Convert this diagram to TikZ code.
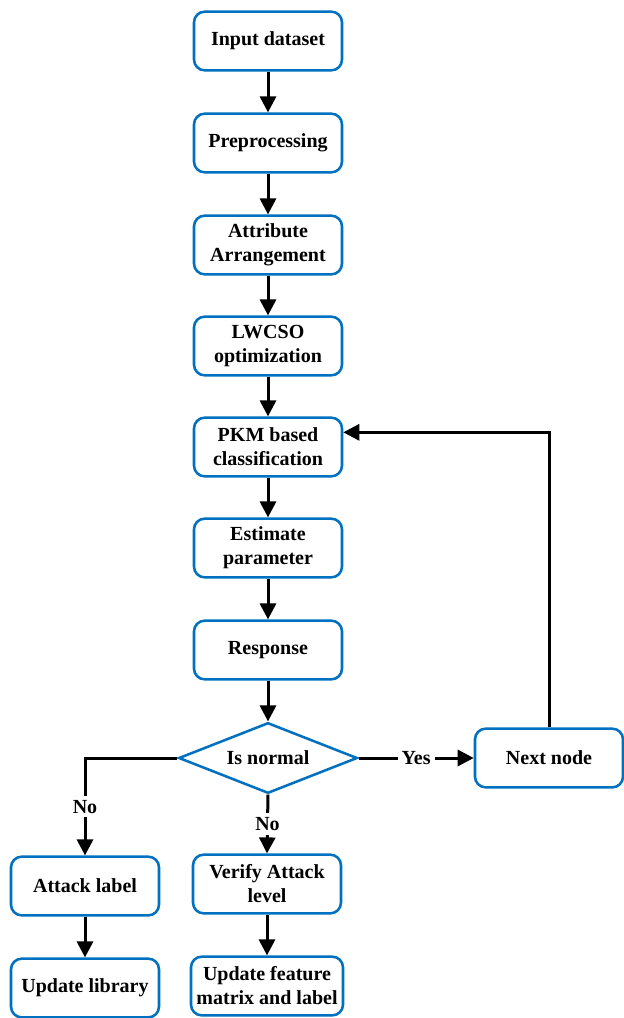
\documentclass[tikz,border=0pt]{standalone}
\usepackage{fontspec}
\setmainfont{Liberation Serif}
\usetikzlibrary{arrows.meta,shapes.geometric}
\definecolor{boxblue}{RGB}{0,112,192}

\begin{document}
\begin{tikzpicture}[x=0.75pt, y=-0.75pt, font=\fontsize{15}{18}\selectfont\bfseries,
  box/.style={draw=boxblue, line width=1.9pt, rounded corners=8pt, fill=white,
    minimum width=111pt, minimum height=44pt, align=center, inner sep=2pt},
  dec/.style={draw=boxblue, line width=1.9pt, diamond, aspect=2.5, fill=white,
    minimum width=134pt, minimum height=53pt, inner sep=0pt},
  ar/.style={-{Triangle[length=12pt,width=12pt]}, line width=2.25pt},
  lbl/.style={fill=white, inner sep=3pt}]
\useasboundingbox (0,0) rectangle (624,1018);
\def\cx{268}
% main chain
\node[box] (inp)  at (\cx,41)  {Input dataset};
\node[box] (pre)  at (\cx,143) {Preprocessing};
\node[box] (attr) at (\cx,245) {Attribute\\Arrangement};
\node[box] (lwc)  at (\cx,346) {LWCSO\\optimization};
\node[box] (pkm)  at (\cx,447) {PKM based\\classification};
\node[box] (est)  at (\cx,548) {Estimate\\parameter};
\node[box] (resp) at (\cx,650) {Response};
% decision
\node[dec] (isn)  at (\cx,758) {Is normal};
\node[box] (nxt)  at (549,758) {Next node};
% branches
\node[box] (att)  at (85,886)  {Attack label};
\node[box] (upl)  at (85,988)  {Update library};
\node[box] (ver)  at (267,884) {Verify Attack\\level};
\node[box, minimum width=114pt] (upf) at (267,986) {Update feature\\matrix and label};
% edges
\foreach \a/\b in {inp/pre,pre/attr,attr/lwc,lwc/pkm,pkm/est,est/resp,resp/isn,att/upl,ver/upf}
  \draw[ar] (\a) -- (\b);
\draw[ar] (isn.east) -- node[lbl] {Yes} (nxt.west);
\draw[ar] (isn.west) -| node[lbl, pos=0.75] {No} (att.north);
\draw[ar] (isn.south) -- node[lbl] {No} (ver.north);
\draw[ar] (nxt.north) |- ([yshift=11pt]pkm.east);
\end{tikzpicture}
\end{document}
